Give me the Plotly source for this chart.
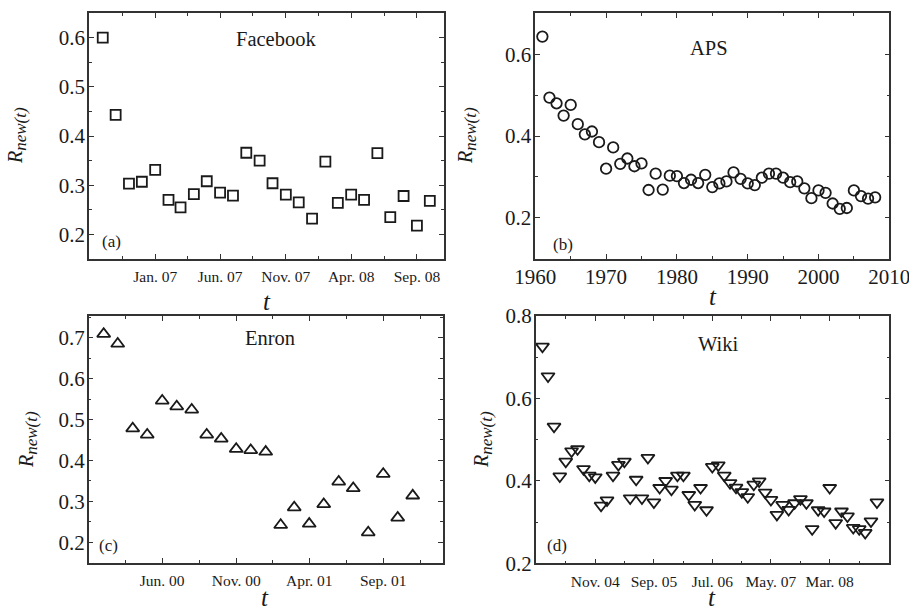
import pandas as pd
import plotly.graph_objects as go

# ---------------- data ----------------
facebook_start = "2006-09-01"
facebook_values = [0.600, 0.443, 0.303, 0.307, 0.331, 0.270, 0.255, 0.282, 0.308, 0.285,
                   0.279, 0.366, 0.350, 0.304, 0.281, 0.265, 0.232, 0.348, 0.264, 0.281,
                   0.270, 0.365, 0.235, 0.278, 0.218, 0.268]
facebook_ticks = ["2007-01-01", "2007-06-01", "2007-11-01", "2008-04-01", "2008-09-01"]

aps_years = list(range(1961, 2009))
aps_values = [0.643, 0.494, 0.480, 0.450, 0.476, 0.429, 0.404, 0.411, 0.385, 0.320,
              0.372, 0.332, 0.345, 0.326, 0.333, 0.268, 0.308, 0.269, 0.303, 0.302,
              0.285, 0.293, 0.285, 0.305, 0.275, 0.284, 0.289, 0.311, 0.295, 0.284,
              0.280, 0.298, 0.308, 0.308, 0.298, 0.287, 0.289, 0.272, 0.248, 0.267,
              0.261, 0.235, 0.222, 0.224, 0.267, 0.253, 0.247, 0.250]

enron_start = "2000-02-01"
enron_values = [0.709, 0.685, 0.478, 0.463, 0.546, 0.532, 0.524, 0.463, 0.453, 0.428,
                0.425, 0.421, 0.242, 0.285, 0.245, 0.293, 0.348, 0.332, 0.224, 0.367,
                0.260, 0.314]
enron_ticks = ["2000-06-01", "2000-11-01", "2001-04-01", "2001-09-01"]

wiki_start = "2004-02-01"
wiki_values = [0.726, 0.654, 0.532, 0.411, 0.447, 0.472, 0.477, 0.429, 0.413, 0.409,
               0.340, 0.353, 0.413, 0.439, 0.447, 0.358, 0.403, 0.358, 0.456, 0.348,
               0.383, 0.400, 0.379, 0.413, 0.413, 0.366, 0.342, 0.383, 0.329, 0.434,
               0.438, 0.413, 0.395, 0.384, 0.373, 0.361, 0.391, 0.399, 0.372, 0.354,
               0.318, 0.342, 0.330, 0.346, 0.356, 0.346, 0.283, 0.329, 0.326, 0.383,
               0.298, 0.326, 0.314, 0.286, 0.283, 0.274, 0.302, 0.348]
wiki_ticks = ["2004-11-01", "2005-09-01", "2006-07-01", "2007-05-01", "2008-03-01"]

panel_names = ["Facebook", "APS", "Enron", "Wiki"]
panel_letters = ["(a)", "(b)", "(c)", "(d)"]

# ---------------- helpers ----------------
W, H = 909, 613
FONT = "Liberation Serif"
INK = "#1a1a1a"


def months(start, n):
    return pd.date_range(start, periods=n, freq="MS")


def midpoints(ticks, lo, hi):
    t = [pd.Timestamp(v) for v in ticks]
    step = t[1] - t[0]
    pts = [t[0] - step] + t + [t[-1] + step]
    mids = [a + (b - a) / 2 for a, b in zip(pts[:-1], pts[1:])]
    lo, hi = pd.Timestamp(lo), pd.Timestamp(hi)
    return [m for m in mids if lo <= m <= hi]


def xd(px):
    return px / W


def yd(py):
    return 1 - py / H


fig = go.Figure()

marker_common = dict(size=10, color=INK, line=dict(width=1.8, color=INK))

fig.add_trace(go.Scatter(x=months(facebook_start, len(facebook_values)), y=facebook_values,
                         mode="markers", marker=dict(symbol="square-open", **marker_common),
                         xaxis="x", yaxis="y", showlegend=False))
fig.add_trace(go.Scatter(x=aps_years, y=aps_values,
                         mode="markers", marker=dict(symbol="circle-open", **{**marker_common, "size": 10.5}),
                         xaxis="x2", yaxis="y2", showlegend=False))
fig.add_trace(go.Scatter(x=months(enron_start, len(enron_values)), y=enron_values,
                         mode="markers", marker=dict(symbol="triangle-up-open", **{**marker_common, "size": 11.5}),
                         xaxis="x3", yaxis="y3", showlegend=False))
fig.add_trace(go.Scatter(x=months(wiki_start, len(wiki_values)), y=wiki_values,
                         mode="markers", marker=dict(symbol="triangle-down-open", **{**marker_common, "size": 11.5}),
                         xaxis="x4", yaxis="y4", showlegend=False))

axis_common = dict(showline=True, linecolor="#333", linewidth=1.5, mirror="allticks",
                   ticks="inside", ticklen=5, tickwidth=1, tickcolor="#333",
                   showgrid=False, zeroline=False, fixedrange=True, automargin=False,
                   ticklabeloverflow="allow")
num_font = dict(family=FONT, size=21, color=INK)
date_font = dict(family=FONT, size=15.5, color=INK)

fb_range = ["2006-07-31", "2008-11-03"]
en_range = ["2000-01-01", "2002-01-02"]
wk_range = ["2003-12-28", "2009-01-04"]

fig.update_layout(
    width=W, height=H, margin=dict(l=0, r=0, t=0, b=0, autoexpand=False),
    plot_bgcolor="white", paper_bgcolor="white",
    xaxis=dict(domain=[xd(89), xd(444)], anchor="y", type="date", range=fb_range,
               tickmode="array", tickvals=facebook_ticks, tickformat="%b. %y",
               tickfont=date_font, ticklabelstandoff=3,
               minor=dict(ticks="inside", ticklen=3, tickcolor="#333",
                          tickvals=midpoints(facebook_ticks, *fb_range)),
               **axis_common),
    yaxis=dict(domain=[yd(259), yd(13)], anchor="x", range=[0.15, 0.65],
               tickmode="linear", tick0=0.2, dtick=0.1, tickformat=".1f", tickfont=num_font,
               ticklabelstandoff=-2,
               minor=dict(ticks="inside", ticklen=3, tickcolor="#333", dtick=0.05),
               **axis_common),
    xaxis2=dict(domain=[xd(535.3), xd(889.3)], anchor="y2", range=[1960, 2010],
                tickmode="linear", tick0=1960, dtick=10, tickfont=num_font,
                ticklabelstandoff=-2,
                minor=dict(ticks="inside", ticklen=3, tickcolor="#333", dtick=5),
                **axis_common),
    yaxis2=dict(domain=[yd(258.7), yd(13.3)], anchor="x2", range=[0.1, 0.7],
                tickmode="linear", tick0=0.2, dtick=0.2, tickformat=".1f", tickfont=num_font,
                ticklabelstandoff=-2,
                minor=dict(ticks="inside", ticklen=3, tickcolor="#333", dtick=0.1),
                **axis_common),
    xaxis3=dict(domain=[xd(88.7), xd(442.7)], anchor="y3", type="date", range=en_range,
                tickmode="array", tickvals=enron_ticks, tickformat="%b. %y",
                tickfont=date_font, ticklabelstandoff=3,
                minor=dict(ticks="inside", ticklen=3, tickcolor="#333",
                           tickvals=midpoints(enron_ticks, *en_range)),
                **axis_common),
    yaxis3=dict(domain=[yd(562.7), yd(316)], anchor="x3", range=[0.15, 0.753],
                tickmode="linear", tick0=0.2, dtick=0.1, tickformat=".1f", tickfont=num_font,
                ticklabelstandoff=-2,
                minor=dict(ticks="inside", ticklen=3, tickcolor="#333", dtick=0.05),
                **axis_common),
    xaxis4=dict(domain=[xd(535.7), xd(889.3)], anchor="y4", type="date", range=wk_range,
                tickmode="array", tickvals=wiki_ticks, tickformat="%b. %y",
                tickfont=date_font, ticklabelstandoff=3,
                minor=dict(ticks="inside", ticklen=3, tickcolor="#333",
                           tickvals=midpoints(wiki_ticks, *wk_range)),
                **axis_common),
    yaxis4=dict(domain=[yd(563.3), yd(316)], anchor="x4", range=[0.2, 0.8],
                tickmode="linear", tick0=0.2, dtick=0.2, tickformat=".1f", tickfont=num_font,
                ticklabelstandoff=-2,
                minor=dict(ticks="inside", ticklen=3, tickcolor="#333", dtick=0.1),
                **axis_common),
)

ann = []
title_font = dict(family=FONT, size=20.5, color=INK)
letter_font = dict(family=FONT, size=17, color=INK)
ylab_font = dict(family=FONT, size=20, color=INK)
t_font = dict(family=FONT, size=25, color=INK)

name_pos = [(276, 39), (709, 48), (270, 338), (718, 344)]
letter_pos = [(111, 241), (563, 244), (108, 545), (557, 545)]
ylab_pos = [(17, 136), (467, 136), (28, 440), (483, 440)]
t_bottom = [(267, 317), (713, 312), (265, 613), (712, 613)]

ylab_text = "<i>R<sub><span style='font-size:17px'>new(t)</span></sub></i>"

for i in range(4):
    ann.append(dict(text=panel_names[i], x=xd(name_pos[i][0]), y=yd(name_pos[i][1]),
                    xref="paper", yref="paper", showarrow=False, font=title_font,
                    xanchor="center", yanchor="middle"))
    ann.append(dict(text=panel_letters[i], x=xd(letter_pos[i][0]), y=yd(letter_pos[i][1]),
                    xref="paper", yref="paper", showarrow=False, font=letter_font,
                    xanchor="center", yanchor="middle"))
    ann.append(dict(text=ylab_text, x=xd(ylab_pos[i][0]), y=yd(ylab_pos[i][1]),
                    xref="paper", yref="paper", showarrow=False, font=ylab_font, textangle=-90,
                    xanchor="center", yanchor="middle"))
    ann.append(dict(text="<i>t</i>", x=xd(t_bottom[i][0]), y=yd(t_bottom[i][1]),
                    xref="paper", yref="paper", showarrow=False, font=t_font,
                    xanchor="center", yanchor="bottom"))

fig.update_layout(annotations=ann)

fig.write_html("out.html")
